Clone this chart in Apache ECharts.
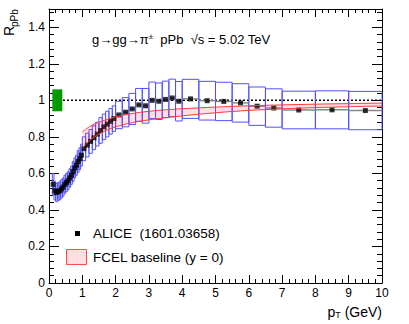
<!DOCTYPE html>
<html>
<head>
<meta charset="utf-8">
<script src="https://cdn.jsdelivr.net/npm/echarts@6/dist/echarts.min.js"></script>
<style>
html, body { margin: 0; padding: 0; background: #fff; }
#box1 { width: 409px; height: 324px; }
</style>
</head>
<body>
<div id="box1"></div>
<script>
// ALICE pPb charged pion R_pPb, bin edges / value / syst half-height
var ptLow = [0.10, 0.15, 0.20, 0.25, 0.30, 0.35, 0.40, 0.45, 0.50, 0.55, 0.60, 0.65, 0.70, 0.75, 0.80, 0.85, 0.90, 0.95,
    1.0, 1.1, 1.2, 1.3, 1.4, 1.5, 1.6, 1.7, 1.8, 1.9,
    2.0, 2.2, 2.4, 2.6, 2.8, 3.0, 3.2, 3.4, 3.6, 3.8,
    4.0, 4.5, 5.0, 5.5, 6.0, 6.5, 7.0, 8.0, 9.0];
var ptHigh = [0.15, 0.20, 0.25, 0.30, 0.35, 0.40, 0.45, 0.50, 0.55, 0.60, 0.65, 0.70, 0.75, 0.80, 0.85, 0.90, 0.95, 1.0,
    1.1, 1.2, 1.3, 1.4, 1.5, 1.6, 1.7, 1.8, 1.9, 2.0,
    2.2, 2.4, 2.6, 2.8, 3.0, 3.2, 3.4, 3.6, 3.8, 4.0,
    4.5, 5.0, 5.5, 6.0, 6.5, 7.0, 8.0, 9.0, 10.0];
var rValue = [0.54, 0.505, 0.495, 0.50, 0.505, 0.515, 0.525, 0.54, 0.55, 0.56, 0.575, 0.59, 0.61, 0.63, 0.645, 0.665, 0.68, 0.70,
    0.735, 0.755, 0.775, 0.795, 0.815, 0.835, 0.855, 0.87, 0.885, 0.90,
    0.92, 0.935, 0.953, 0.975, 0.97, 1.0, 0.995, 1.005, 1.013, 0.995,
    1.008, 0.998, 0.994, 0.986, 0.968, 0.958, 0.947, 0.948, 0.944];
var rSyst = [0.06, 0.05, 0.05, 0.05, 0.05, 0.05, 0.05, 0.05, 0.05, 0.05, 0.05, 0.05, 0.055, 0.055, 0.055, 0.06, 0.06, 0.06,
    0.065, 0.065, 0.065, 0.065, 0.065, 0.07, 0.07, 0.07, 0.07, 0.07,
    0.075, 0.08, 0.085, 0.09, 0.095, 0.10, 0.10, 0.10, 0.103, 0.108,
    0.107, 0.106, 0.105, 0.105, 0.105, 0.105, 0.103, 0.104, 0.105];

// FCEL baseline band (y = 0)
var fcelPt = [1.0, 1.25, 1.5, 1.75, 2.0, 2.5, 3.0, 3.5, 4.0, 5.0, 6.0, 7.0, 8.0, 9.0, 10.0];
var fcelUp = [0.826, 0.86, 0.88, 0.896, 0.91, 0.928, 0.94, 0.948, 0.954, 0.963, 0.97, 0.975, 0.979, 0.982, 0.985];
var fcelLo = [0.742, 0.785, 0.815, 0.838, 0.855, 0.878, 0.893, 0.905, 0.915, 0.932, 0.945, 0.953, 0.96, 0.965, 0.969];

// normalisation box and unity line
var normBox = [[0.1, 0.4, 0.94, 1.06]];
var unityX = [0.42, 10];
var unityY = [1, 1];

var FONT = "'Liberation Sans', Arial, sans-serif";

var dom = document.getElementById("box1");
var myChart = echarts.init(dom, null, { renderer: 'svg' });

var boxData = [], barData = [], pointData = [];
for (var i = 0; i < rValue.length; i++) {
    boxData.push([ptLow[i], ptHigh[i], rValue[i], rSyst[i]]);
    barData.push([ptLow[i], ptHigh[i], rValue[i]]);
    pointData.push([(ptLow[i] + ptHigh[i]) / 2, rValue[i]]);
}
var unityData = unityX.map(function (x, i) { return [x, unityY[i]]; });
var upData = fcelPt.map(function (x, i) { return [x, fcelUp[i]]; });
var loData = fcelPt.map(function (x, i) { return [x, fcelLo[i]]; });

function xAxisOf(pos, major) {
    return {
        type: 'value', position: pos, min: 0, max: 10,
        interval: major ? 1 : 0.2,
        axisLine: { show: major, onZero: false, lineStyle: { color: '#000', width: 1 } },
        axisTick: { show: true, inside: true, length: major ? 8 : 4, lineStyle: { color: '#000', width: 1 } },
        axisLabel: {
            show: major && pos === 'bottom', margin: 4, color: '#000',
            fontFamily: FONT, fontSize: 12
        },
        splitLine: { show: false }
    };
}
function yAxisOf(pos, major) {
    return {
        type: 'value', position: pos, min: 0, max: 1.5,
        interval: major ? 0.2 : 0.04,
        axisLine: { show: major, onZero: false, lineStyle: { color: '#000', width: 1 } },
        axisTick: { show: true, inside: true, length: major ? 10 : 5, lineStyle: { color: '#000', width: 1 } },
        axisLabel: {
            show: major && pos === 'left', margin: 4, color: '#000',
            fontFamily: FONT, fontSize: 12,
            formatter: function (v) { return v > 1.45 ? '' : String(+v.toFixed(1)); }
        },
        splitLine: { show: false }
    };
}

option = {
    backgroundColor: '#fff',
    animation: false,
    grid: { left: 49, right: 27, top: 9, bottom: 41, containLabel: false, outerBoundsMode: 'none' },
    xAxis: [xAxisOf('bottom', true), xAxisOf('bottom', false), xAxisOf('top', true), xAxisOf('top', false)],
    yAxis: [yAxisOf('left', true), yAxisOf('left', false), yAxisOf('right', true), yAxisOf('right', false)],
    series: [
        {
            // normalisation uncertainty
            type: 'custom', silent: true, z: 2,
            data: normBox,
            encode: { x: [0, 1], y: [2, 3] },
            renderItem: function (params, api) {
                var a = api.coord([api.value(0), api.value(3)]);
                var b = api.coord([api.value(1), api.value(2)]);
                return { type: 'rect', shape: { x: a[0], y: a[1], width: b[0] - a[0], height: b[1] - a[1] },
                    style: { fill: '#009a00', stroke: null } };
            }
        },
        {
            name: 'unity', type: 'line', data: unityData, showSymbol: false, silent: true, z: 3,
            lineStyle: { color: '#000', width: 1.5, type: [2, 2] }
        },
        {
            // systematic boxes
            type: 'custom', silent: true, z: 4,
            data: boxData,
            encode: { x: [0, 1], y: 2 },
            renderItem: function (params, api) {
                var v = api.value(2), s = api.value(3);
                var a = api.coord([api.value(0), v + s]);
                var b = api.coord([api.value(1), v - s]);
                return { type: 'rect', shape: { x: a[0], y: a[1], width: b[0] - a[0], height: b[1] - a[1] },
                    style: { fill: 'none', stroke: '#5050ff', lineWidth: 1 } };
            }
        },
        {
            // bin width bars
            type: 'custom', silent: true, z: 5,
            data: barData,
            encode: { x: [0, 1], y: 2 },
            renderItem: function (params, api) {
                var a = api.coord([api.value(0), api.value(2)]);
                var b = api.coord([api.value(1), api.value(2)]);
                return { type: 'line', shape: { x1: a[0], y1: a[1], x2: b[0], y2: b[1] },
                    style: { stroke: '#888', lineWidth: 1.5 } };
            }
        },
        {
            name: 'ALICE', type: 'scatter', data: pointData, z: 6,
            symbol: 'rect', symbolSize: 5, itemStyle: { color: '#000' }
        },
        {
            // FCEL band
            type: 'custom', silent: true, z: 7,
            data: [[1, 0.9]],
            renderItem: function (params, api) {
                var pts = [];
                for (var k = 0; k < fcelPt.length; k++) pts.push(api.coord([fcelPt[k], fcelUp[k]]));
                for (var k = fcelPt.length - 1; k >= 0; k--) pts.push(api.coord([fcelPt[k], fcelLo[k]]));
                return { type: 'polygon', shape: { points: pts },
                    style: { fill: 'rgba(255,40,60,0.15)', stroke: null } };
            }
        },
        {
            name: 'fcelUp', type: 'line', data: upData, showSymbol: false, silent: true, z: 8, smooth: 0.3,
            lineStyle: { color: '#ff3b3b', width: 1 }
        },
        {
            name: 'fcelLo', type: 'line', data: loData, showSymbol: false, silent: true, z: 8, smooth: 0.3,
            lineStyle: { color: '#ff3b3b', width: 1 }
        }
    ],
    graphic: [
        {
            type: 'text', x: 92, y: 39, z: 20,
            style: {
                text: '{a|g→gg→π}{b|±}{a|  pPb  √s = 5.02 TeV}',
                verticalAlign: 'middle',
                rich: {
                    a: { fontFamily: FONT, fontSize: 13, fill: '#000' },
                    b: { fontFamily: FONT, fontSize: 8, fill: '#000', verticalAlign: 'top' }
                }
            }
        },
        {
            type: 'rect', z: 20, shape: { x: 75, y: 231, width: 5, height: 5 }, style: { fill: '#000' }
        },
        {
            type: 'text', x: 93, y: 233.5, z: 20,
            style: { text: 'ALICE  (1601.03658)', font: '13.5px ' + FONT, fill: '#000', verticalAlign: 'middle' }
        },
        {
            type: 'rect', z: 20, shape: { x: 66.5, y: 249.5, width: 20, height: 15 },
            style: { fill: 'rgba(255,40,60,0.15)', stroke: '#ff4a4a', lineWidth: 1 }
        },
        {
            type: 'text', x: 93, y: 257.5, z: 20,
            style: { text: 'FCEL baseline (y = 0)', font: '13.5px ' + FONT, fill: '#000', verticalAlign: 'middle' }
        },
        {
            type: 'text', x: 382, y: 312, z: 20,
            style: {
                text: '{a|p}{s|T}{a| (GeV)}', align: 'right', verticalAlign: 'middle',
                rich: {
                    a: { fontFamily: FONT, fontSize: 14, fill: '#000' },
                    s: { fontFamily: FONT, fontSize: 9, fill: '#000', verticalAlign: 'bottom', padding: [6, 0, 0, 0] }
                }
            }
        },
        {
            type: 'text', x: 16, y: 36, rotation: Math.PI / 2, z: 20,
            style: { text: 'R', font: '14px ' + FONT, fill: '#000', align: 'left', verticalAlign: 'bottom' }
        },
        {
            type: 'text', x: 19.5, y: 27, rotation: Math.PI / 2, z: 20,
            style: { text: 'pPb', font: '10px ' + FONT, fill: '#000', align: 'left', verticalAlign: 'bottom' }
        }
    ]
};
if (option && typeof option === "object") {
    myChart.setOption(option, true);
}
</script>
</body>
</html>
